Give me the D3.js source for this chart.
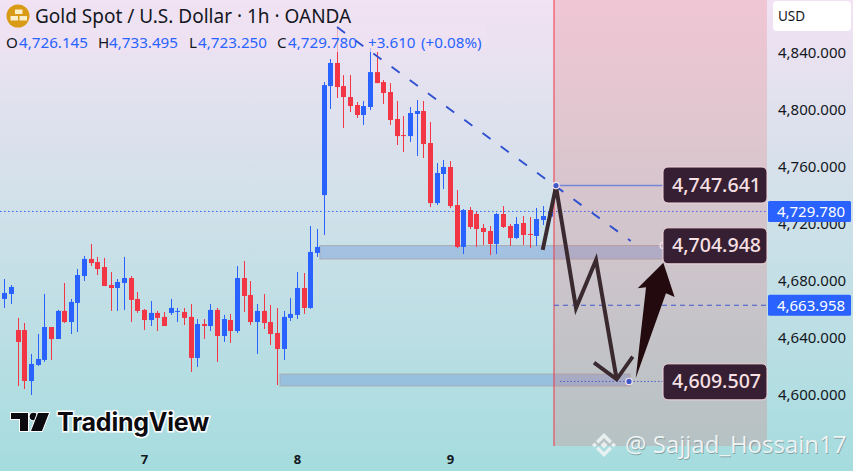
<!DOCTYPE html>
<html>
<head>
<meta charset="utf-8">
<script src="https://cdn.jsdelivr.net/npm/d3@7"></script>
<style>
html, body { margin: 0; padding: 0; background: #a6dcde; overflow: hidden; }
svg { display: block; font-family: "Noto Sans", sans-serif; }
</style>
</head>
<body>
<svg id="chart" width="853" height="471"></svg>
<script>
// hourly candles
var opens = [4667.4,4670.9,4645.6,4645.6,4609.8,4621.1,4624.6,4647.7,4639.3,4659,4651.2,4664.6,4683.5,4695.5,4693.3,4689.8,4677.2,4675.1,4678.6,4682.1,4667.4,4659.7,4652.6,4657.6,4654.8,4657.6,4658.3,4658.3,4654.8,4626,4649.8,4648.4,4659.7,4641.4,4652.6,4644.9,4682.1,4670.2,4651.2,4659,4651.2,4643.5,4632.3,4654.1,4656.2,4675.1,4661.1,4699.7,4740.3,4816.8,4833,4816.8,4809.1,4803.5,4796.5,4802.1,4826.6,4819.6,4812.6,4793.7,4782.4,4781.7,4797.2,4799.3,4776.8,4734.7,4755.1,4760,4733.3,4703.9,4729.8,4727,4717.2,4715.1,4706,4727,4718.6,4710.2,4720.7,4713,4711.6,4722.8,4725.2];
var highs = [4681.4,4677.2,4654.1,4650.5,4628.8,4642.8,4670.9,4647.7,4659.7,4678.6,4667.4,4688.4,4697.6,4706,4696.9,4696.2,4686.3,4681.4,4696.9,4683.5,4672.3,4660.4,4666,4659,4658.3,4667.4,4661.1,4661.1,4663.9,4653.3,4653.3,4663.9,4661.1,4656.2,4656.9,4690.5,4694,4680,4663.9,4670.9,4663.2,4661.1,4659,4668.1,4686.3,4685.6,4718.6,4716.5,4819.6,4835.8,4858.2,4824.5,4824.5,4805.6,4806.3,4843.5,4840.7,4821,4818.9,4806.3,4795.8,4802.1,4807,4806.3,4791.6,4762.8,4764.9,4764.2,4743.8,4730.5,4731.9,4728.4,4720,4718.6,4727.7,4732.6,4720,4724.9,4725.6,4724.9,4731.2,4732.6,4732.6];
var lows = [4661.1,4663.9,4606.3,4604.2,4600,4620.4,4623.2,4624.6,4639.3,4650.5,4642.8,4644.2,4680,4690.5,4684.2,4676.5,4659,4659,4659.7,4651.2,4657.6,4645.6,4648.4,4644.9,4648.4,4656.2,4651.2,4649.1,4616.2,4619.7,4639.3,4644.9,4623.2,4637.2,4636.5,4643.5,4658.3,4649.1,4628.8,4646.3,4635.1,4607,4624.6,4651.9,4653.3,4656.9,4660.4,4696.9,4712.3,4800.7,4808.4,4787.4,4798.6,4794.4,4789.5,4800,4818.9,4804.2,4789.5,4775.4,4770.5,4777.5,4767.7,4766.3,4731.9,4733.3,4744.5,4731.2,4703.1,4698.9,4716.5,4703.9,4705.3,4698.2,4698.9,4717.2,4704.6,4709.5,4705.3,4703.1,4704.6,4719.3,4722.3];
var closes = [4671.6,4675.8,4637.2,4609.8,4621.8,4625.3,4647.7,4639.3,4659,4651.2,4665.3,4684.2,4695.5,4692.6,4688.4,4676.5,4675.1,4679.3,4682.1,4666.7,4659,4652.6,4657.6,4654.1,4648.4,4661.1,4659,4654.1,4626,4649.8,4648.4,4659.7,4641.4,4653.3,4644.9,4682.1,4669.5,4651.2,4659,4650.5,4642.8,4632.3,4654.8,4656.9,4675.1,4661.1,4700.4,4703.9,4817.5,4833,4816.1,4809.1,4802.8,4796.5,4802.8,4826.6,4818.9,4811.9,4793,4781.7,4781.7,4797.9,4799.3,4776.1,4734.7,4755.8,4760,4732.6,4703.9,4729.8,4717.9,4716.5,4714.4,4706,4727,4717.9,4710.2,4720,4712.3,4712.3,4723.5,4725.6,4728.9];

var priceTicks = [4600,4640,4680,4720,4760,4800,4840];
var dayTicks = [21,44,67];
var dayLabels = ["7","8","9"];

var legendItems = ["O","4,726.145","H","4,733.495","L","4,723.250","C","4,729.780","+3.610","(+0.08%)"];
var lastPrice = 4729.780;
var countdownPrice = 4663.958;
var levelLabels = [4747.641,4704.948,4609.507];

// drawings as [bar, price]
var trendLine = [[50.03,4858.2],[94.2,4708.1]];
var zigzag = [[80.96,4701.8],[82.96,4746.2],[85.97,4661.1],[88.98,4694.7],[92.09,4611]];
var zigzagHead = [[88.68,4622.7],[92.09,4611],[94.5,4626.9]];
var bigArrow = [[94.95,4611.7],[96.5,4675.6],[95.25,4674.9],[99.1,4692.8],[100.8,4668.8],[99.5,4671.4]];
var zones = [[47,99.3,4704.9,4695.4],[41,94.1,4614.7,4606.3]];
var nowBar = 82.66;

var svg = d3.select("#chart");
var W = 853, H = 471, plotRight = 767, plotBottom = 446;
var uiFont = '"Noto Sans", sans-serif';

var x = d3.scaleLinear().domain([0,82]).range([4.3,549.6]);
var y = d3.scaleLinear().domain([4840,4600]).range([53,395]);
var tagNudge = 1.4; // price line sits a bit under the axis label centre

var defs = svg.append("defs");
var bg = defs.append("linearGradient").attr("id","bg").attr("x1",0).attr("y1",0).attr("x2",0).attr("y2",1);
bg.append("stop").attr("offset","0%").attr("stop-color","#f2e2f3");
bg.append("stop").attr("offset","50%").attr("stop-color","#cbe0e8");
bg.append("stop").attr("offset","100%").attr("stop-color","#a5dcde");

svg.append("rect").attr("width",W).attr("height",H).attr("fill","url(#bg)");

// last price dotted line
svg.append("line").attr("x1",0).attr("x2",plotRight)
    .attr("y1",y(lastPrice)+tagNudge).attr("y2",y(lastPrice)+tagNudge)
    .attr("stroke","#2962ff").attr("stroke-width",1).attr("stroke-dasharray","1.5 2.5");

// zones
svg.selectAll(".zone").data(zones).enter().append("rect")
    .attr("class","zone")
    .attr("x",function(d) { return x(d[0]) + 3; })
    .attr("width",function(d) { return x(d[1]) - x(d[0]) - 3; })
    .attr("y",function(d) { return y(d[2]); })
    .attr("height",function(d) { return y(d[3]) - y(d[2]); })
    .attr("fill","#7097d8").attr("fill-opacity",0.42)
    .attr("stroke","#a8a4a4").attr("stroke-opacity",0.75);

// candles
var candles = d3.range(opens.length);
var col = function(i) { return closes[i] >= opens[i] ? "#2962ff" : "#f23645"; };
svg.selectAll(".wick").data(candles).enter().append("line")
    .attr("class","wick")
    .attr("x1",function(i) { return Math.round(x(i)) + 0.5; })
    .attr("x2",function(i) { return Math.round(x(i)) + 0.5; })
    .attr("y1",function(i) { return y(highs[i]); })
    .attr("y2",function(i) { return y(lows[i]); })
    .attr("stroke",col).attr("stroke-width",1);
svg.selectAll(".body").data(candles).enter().append("rect")
    .attr("class","body")
    .attr("x",function(i) { return Math.round(x(i)) - 2; })
    .attr("width",5)
    .attr("y",function(i) { return y(Math.max(opens[i],closes[i])); })
    .attr("height",function(i) { return Math.max(1, Math.abs(y(opens[i]) - y(closes[i]))); })
    .attr("fill",col);

// forecast region
svg.append("rect").attr("x",x(nowBar)).attr("y",0)
    .attr("width",plotRight - x(nowBar)).attr("height",plotBottom)
    .attr("fill","#ec5c58").attr("fill-opacity",0.2);
svg.append("line").attr("x1",x(nowBar)).attr("x2",x(nowBar)).attr("y1",0).attr("y2",plotBottom)
    .attr("stroke","#f23645").attr("stroke-width",1);

// countdown price line
svg.append("line").attr("x1",x(nowBar)).attr("x2",plotRight)
    .attr("y1",y(countdownPrice)+tagNudge).attr("y2",y(countdownPrice)+tagNudge)
    .attr("stroke","#3f57c8").attr("stroke-width",1).attr("stroke-dasharray","5 4");

// legend backing, fades what runs under the text
svg.append("rect").attr("x",0).attr("y",24).attr("width",486).attr("height",28)
    .attr("fill","#efe3f2").attr("fill-opacity",0.7);

var line = d3.line().x(function(d) { return x(d[0]); }).y(function(d) { return y(d[1]); });

// trend line
svg.append("path").attr("d",line(trendLine)).attr("fill","none")
    .attr("stroke","#2f50cf").attr("stroke-width",1.9).attr("stroke-dasharray","10 12.5");

// level lines
svg.append("line").attr("x1",x(82.96)).attr("x2",664)
    .attr("y1",y(levelLabels[0])+1).attr("y2",y(levelLabels[0])+1)
    .attr("stroke","#7486d8").attr("stroke-width",1.5);
svg.append("line").attr("x1",560).attr("x2",664)
    .attr("y1",y(levelLabels[2])).attr("y2",y(levelLabels[2]))
    .attr("stroke","#4a5fc8").attr("stroke-width",1).attr("stroke-dasharray","1.5 2");

// hand drawn arrows
svg.append("path").attr("d",line(zigzag)).attr("fill","none")
    .attr("stroke","#3a2a30").attr("stroke-width",4).attr("stroke-linejoin","miter");
svg.append("path").attr("d",line(zigzagHead)).attr("fill","none")
    .attr("stroke","#3a2a30").attr("stroke-width",3.8);
svg.append("path").attr("d",line(bigArrow) + "Z").attr("fill","#230a0e");

// handles
svg.append("circle").attr("cx",x(82.96)).attr("cy",y(levelLabels[0])+1).attr("r",3.2)
    .attr("fill","#3f57c8").attr("stroke","#f3e4ea").attr("stroke-width",1.2);
svg.append("circle").attr("cx",629).attr("cy",y(levelLabels[2])).attr("r",3.2)
    .attr("fill","#3f57c8").attr("stroke","#f3e4ea").attr("stroke-width",1.2);
svg.append("circle").attr("cx",663).attr("cy",y(levelLabels[1])).attr("r",3)
    .attr("fill","none").attr("stroke","#f3e4ea").attr("stroke-width",1.2);

// axes
var yAxis = d3.axisRight(y).tickValues(priceTicks).tickSize(0).tickPadding(0).tickFormat(d3.format(",.3f"));
var yg = svg.append("g").attr("transform","translate(778,0)").call(yAxis);
yg.select(".domain").remove();
yg.selectAll("text").attr("fill","#131722").style("font-family",uiFont).style("font-size","15px");

var xAxis = d3.axisBottom(x).tickValues(dayTicks).tickSize(0).tickPadding(0)
    .tickFormat(function(d,i) { return dayLabels[i]; });
var xg = svg.append("g").attr("transform","translate(0,455)").call(xAxis);
xg.select(".domain").remove();
xg.selectAll("text").attr("fill","#131722").style("font-family",uiFont)
    .style("font-size","13px").style("font-weight","700");

// value boxes on the chart
var fmt = d3.format(",.3f");
var boxes = svg.selectAll(".lvl").data(levelLabels).enter().append("g").attr("class","lvl");
boxes.append("rect").attr("x",663).attr("width",104).attr("height",36).attr("rx",5)
    .attr("y",function(d) { return y(d) - 17.6; })
    .attr("fill","#371f33").attr("stroke","#f6d9e0").attr("stroke-width",1);
boxes.append("text").attr("x",716.5).attr("text-anchor","middle")
    .attr("y",function(d) { return y(d) + 7; })
    .attr("fill","#f7e0e4").style("font-size","19.6px").style("font-weight","500")
    .text(function(d) { return fmt(d); });

// price tags
var tags = svg.selectAll(".tag").data([lastPrice,countdownPrice]).enter().append("g").attr("class","tag");
tags.append("rect").attr("x",768).attr("width",83).attr("height",21).attr("rx",1.5)
    .attr("y",function(d) { return y(d) + tagNudge - 10.5; })
    .attr("fill","#2962ff");
tags.append("text").attr("x",811).attr("text-anchor","middle")
    .attr("y",function(d) { return y(d) + tagNudge + 5.5; })
    .attr("fill","#fff").style("font-size","15px")
    .text(function(d) { return fmt(d); });

// USD button
svg.append("rect").attr("x",773).attr("y",1).attr("width",78).attr("height",30).attr("rx",4).attr("fill","#fff");
svg.append("text").attr("x",778).attr("y",21).attr("fill","#131722").style("font-size","13.5px").text("USD");

// legend
var logo = svg.append("g");
logo.append("circle").attr("cx",18).attr("cy",16).attr("r",11.5).attr("fill","#d99a16");
[[15,9.5],[10.5,16],[19.5,16]].forEach(function(p) {
    logo.append("rect").attr("x",p[0]).attr("y",p[1]).attr("width",7.5).attr("height",4.5).attr("fill","#fbeecb");
});
svg.append("text").attr("x",35).attr("y",22.5).attr("fill","#131722")
    .style("font-size","19px").text("Gold Spot / U.S. Dollar · 1h · OANDA");

var legendX = [6,19,98,109,189,198,277,288,368,421];
svg.selectAll(".ohlc").data(legendItems).enter().append("text")
    .attr("class","ohlc")
    .attr("x",function(d,i) { return legendX[i]; })
    .attr("y",47.5)
    .attr("fill",function(d,i) { return i < 8 && i % 2 == 0 ? "#131722" : "#2962ff"; })
    .style("font-size","15.2px")
    .text(function(d) { return d; });

// TradingView mark
var tv = svg.append("g").attr("fill","#0b0b0f").attr("stroke","#fff").attr("stroke-width",2).style("paint-order","stroke");
tv.append("path").attr("d","M11 413H28V431H20V419H11Z");
tv.append("circle").attr("cx",33.5).attr("cy",416.5).attr("r",3.8);
tv.append("path").attr("d","M38 413H49L42 431H31Z");
svg.append("text").attr("x",57).attr("y",431).attr("fill","#0b0b0f")
    .attr("stroke","#fff").attr("stroke-width",3).style("paint-order","stroke")
    .style("font-family","Inter, sans-serif").style("font-size","25px").style("font-weight","700")
    .style("letter-spacing","-0.25px").text("TradingView");

// watermark
var diamond = function(cx,cy,r) { return "M"+cx+" "+(cy-r)+"L"+(cx+r)+" "+cy+"L"+cx+" "+(cy+r)+"L"+(cx-r)+" "+cy+"Z"; };
var wm = svg.append("g").attr("fill","#eef3f3").attr("fill-opacity",0.9);
wm.append("path").attr("d",diamond(604,445,3.5));
wm.append("path").attr("d",diamond(594.5,445,2.5));
wm.append("path").attr("d",diamond(613.5,445,2.5));
wm.append("path").attr("d","M604 433L612 441L609.5 443.5L604 438L598.5 443.5L596 441Z");
wm.append("path").attr("d","M604 457L612 449L609.5 446.5L604 452L598.5 446.5L596 449Z");
svg.append("text").attr("x",625.8).attr("y",453.8).attr("fill","#6f8a8c").attr("fill-opacity",0.7)
    .style("font-size","24px").style("font-family","'Open Sans', sans-serif").text("@ Sajjad_Hossain17");
svg.append("text").attr("x",625).attr("y",453).attr("fill","#eef3f3")
    .style("font-size","24px").style("font-family","'Open Sans', sans-serif").text("@ Sajjad_Hossain17");
</script>
</body>
</html>
